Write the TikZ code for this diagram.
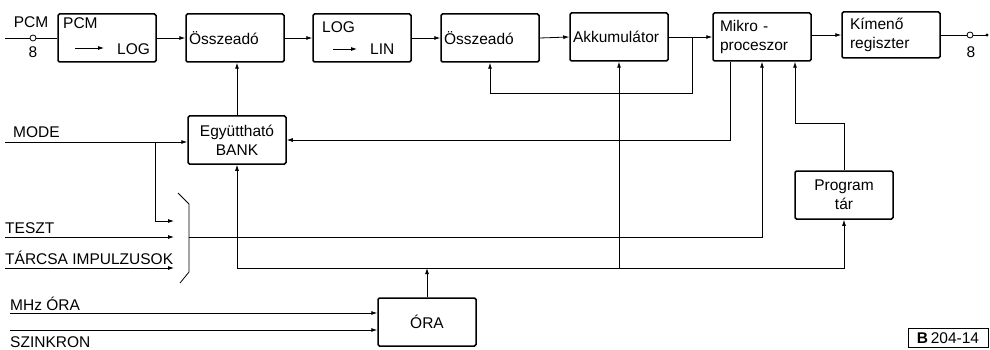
\documentclass[tikz,border=0pt]{standalone}
\usepackage{fontspec}
\setmainfont{Liberation Sans}
\usetikzlibrary{arrows.meta, positioning, calc}

\begin{document}
\begin{tikzpicture}[x=1pt, y=-1pt,
		every node/.style={font=\fontsize{15.5}{19}\selectfont},
		blk/.style={draw, line width=1.5pt, rounded corners=1.5pt, minimum height=48pt, text width=92pt, inner xsep=3pt, inner ysep=2pt, align=left},
		lbl/.style={inner sep=0pt, anchor=base west},
		wire/.style={line width=0.8pt},
		arr/.style={line width=0.8pt, -{Latex[length=6pt, width=4pt]}},
		pin/.style={circle, draw, line width=0.8pt, inner sep=0pt, minimum size=6pt}]
		\useasboundingbox (0,0) rectangle (990,350);
		% top row
		\node[pin] (pin) at (33,38) {};
		\node[lbl, anchor=base] (pinlbl) at (31,28) {PCM};
		\node[lbl, anchor=base] (pinnum) at (33,58) {8};
		\node[blk] (pcm) at (107,38) {};
		\node[lbl] (pcmtop) at (63,29) {PCM};
		\node[lbl] (pcmbot) at (117,55) {LOG};
		\node[blk] (add1) at (235,38) {Összeadó};
		\node[blk] (loglin) at (362,38) {};
		\node[lbl] (logtop) at (322,33) {LOG};
		\node[lbl] (logbot) at (370,55) {LIN};
		\node[blk] (add2) at (490,38) {Összeadó};
		\node[blk] (akk) at (619,37) {Akkumulátor};
		\node[blk] (mikro) at (762,37) {\hspace{4pt}Mikro -\\\hspace{4pt}proceszor};
		\node[blk, minimum height=46pt] (kim) at (891,35) {\hspace{5pt}Kímenő\\\hspace{5pt}regiszter};
		\node[pin] (pout) at (970,35) {};
		\node[lbl, anchor=base] (poutnum) at (971,58) {8};
		\coordinate (outend) at (987,35);
		% lower blocks
		\node[blk, align=center] (bank) at (237,140) {Együttható\\BANK};
		\node[blk, align=center] (prog) at (844,195) {Program\\tár};
		\node[blk, align=center] (ora) at (427,322) {ÓRA};
		\node[draw, line width=0.8pt, minimum width=80pt, minimum height=19pt, inner sep=1pt] (code) at (948,338) {\textbf{B}\,204-14};
		% input labels
		\node[lbl] (mode) at (13,138) {MODE};
		\node[lbl] (teszt) at (5,233) {TESZT};
		\node[lbl] (tarcsa) at (5,264) {TÁRCSA IMPULZUSOK};
		\node[lbl] (mhz) at (10,310) {MHz ÓRA};
		\node[lbl] (szinkron) at (10,347) {SZINKRON};
		% selector bracket
		\draw[wire] (178,193) -- (189,204) -- (189,272) -- (180,283);
		\coordinate (mxout) at (189,237);
		\coordinate (mx1) at (174,221);
		\coordinate (mx2) at (174,237);
		\coordinate (mx3) at (174,268);
		% bus points
		\coordinate (modesrc) at (5,142);
		\coordinate (modej) at (155,142);
		\coordinate (busl) at (237,268);
		\coordinate (busr) at (844,268);
		\coordinate (fbj) at (692,37);
		% main chain
		\draw[wire] (5,38) -- (pin.west);
		\draw[wire] (pin.east) -- (pcm.west);
		\draw[arr] (75,48) -- (104,48);
		\draw[arr] (333,49) -- (357,49);
		\draw[arr] (pcm.east) -- (add1.west);
		\draw[arr] (add1.east) -- (loglin.west);
		\draw[arr] (loglin.east) -- (add2.west);
		\draw[arr] (add2.east) -- (akk.west);
		\draw[arr] (akk.east) -- (mikro.west);
		\draw[arr] (mikro.east |- kim.west) -- (kim.west);
		\draw[wire] (kim.east) -- (pout.west);
		\draw[wire] (pout.east) -- (outend);
		\fill (outend) circle (1.6pt);
		% feedback and control
		\draw[arr] (fbj) -- ++(0,56) -| (add2.south);
		\draw[arr] (bank.north) -- (bank.north |- add1.south);
		\draw[arr] (modesrc) -- (modesrc -| bank.west);
		\draw[arr] (modej) |- (mx1);
		\draw[arr] (5,237) -- (mx2);
		\draw[arr] (5,268) -- (mx3);
		\draw[arr] (mxout) -| (mikro.south);
		\draw[arr] ([xshift=-32pt]mikro.south) |- (bank.east);
		\draw[arr] (prog.north) -- ++(0,-47) -| ([xshift=33pt]mikro.south);
		% clock bus
		\draw[arr] (ora.north) -- (ora.north |- busl);
		\draw[arr] (busl) -- (bank.south);
		\draw[arr] (busl) -- (busr) -- (prog.south);
		\draw[arr] (akk.south |- busl) -- (akk.south);
		\draw[arr] (10,313) -- (ora.west |- 10,313);
		\draw[arr] (10,330) -- (ora.west |- 10,330);
	\end{tikzpicture}
\end{document}
